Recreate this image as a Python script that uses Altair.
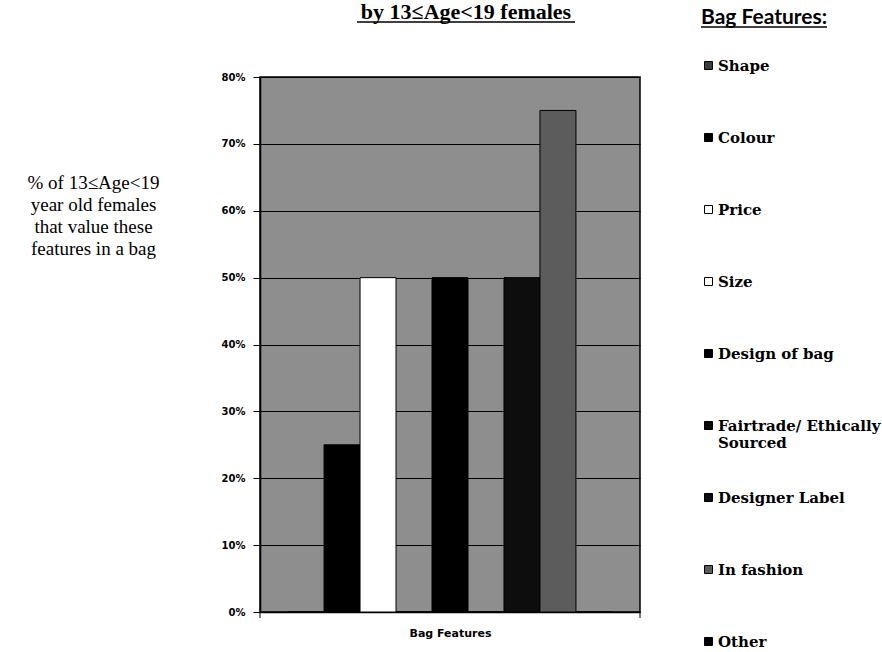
import altair as alt
import pandas as pd

# Bag features and the share of 13-19 year old females who value each one
features = ["Shape", "Colour", "Price", "Size", "Design of bag",
            "Fairtrade/ Ethically Sourced", "Designer Label", "In fashion", "Other"]
shares = [0.0, 0.25, 0.50, 0.0, 0.50, 0.0, 0.50, 0.75, 0.0]
fills = ["#3c3c3c", "#000000", "#ffffff", "#ffffff", "#000000",
         "#0a0a0a", "#0d0d0d", "#5c5c5c", "#000000"]
y_ticks = [0.0, 0.1, 0.2, 0.3, 0.4, 0.5, 0.6, 0.7, 0.8]

chart_title = "by 13\u2264Age<19 females"
y_title = ["% of 13\u2264Age<19", "year old females", "that value these", "features in a bag"]

df = pd.DataFrame({"feature": features, "share": shares})

W, H = 380, 535

bars = alt.Chart(df).mark_bar(stroke="black", strokeWidth=1).encode(
    x=alt.X(
        "feature:N", sort=features,
        scale=alt.Scale(paddingInner=0, paddingOuter=0.78),
        axis=alt.Axis(title="Bag Features", labels=False, ticks=False,
                      domainColor="black", domainWidth=1.5,
                      titleFont="DejaVu Sans", titleFontWeight="bold",
                      titleFontSize=11, titleColor="black", titlePadding=15),
    ),
    y=alt.Y(
        "share:Q", scale=alt.Scale(domain=[0, 0.8]),
        axis=alt.Axis(values=y_ticks, format=".0%", title=y_title,
                      titleAngle=0, titleAlign="center", titleBaseline="top",
                      titleX=-167, titleY=96, titleFont="Liberation Serif",
                      titleFontSize=19, titleFontWeight="normal",
                      titleColor="black", titleLineHeight=22,
                      labelFont="DejaVu Sans", labelFontSize=10,
                      labelFontWeight="bold", labelColor="black", labelPadding=8,
                      tickColor="black", tickSize=7, tickWidth=1,
                      domainColor="black", domainWidth=1.5,
                      grid=True, gridColor="black", gridWidth=1, gridOpacity=1),
    ),
    color=alt.Color(
        "feature:N", sort=features,
        scale=alt.Scale(domain=features, range=fills),
        legend=alt.Legend(
            title="Bag Features:", orient="none", legendX=441, legendY=-70,
            titleFont="Lato", titleFontSize=21, titleFontWeight="bold",
            titleColor="black", titleBaseline="top", titlePadding=30,
            labelFont="DejaVu Serif", labelFontSize=15, labelFontWeight="bold",
            labelColor="black", labelLimit=300, labelOffset=2,
            labelExpr="datum.label == 'Fairtrade/ Ethically Sourced' ? ['Fairtrade/ Ethically', '  Sourced'] : datum.label",
            symbolType="square", symbolSize=64, symbolStrokeColor="black",
            symbolStrokeWidth=1, symbolOpacity=1,
            rowPadding=39, gridAlign="all", padding=0,
        ),
    ),
)

one = pd.DataFrame({"t": [chart_title]})

title = alt.Chart(one).mark_text(
    font="Liberation Serif", fontSize=22, fontWeight="bold", color="black",
    align="center", baseline="alphabetic",
).encode(text="t:N", x=alt.value(206), y=alt.value(-58))

title_underline = alt.Chart(one).mark_rule(color="black", strokeWidth=1.5).encode(
    x=alt.value(97), x2=alt.value(315), y=alt.value(-55))

legend_underline = alt.Chart(one).mark_rule(color="black", strokeWidth=1.5).encode(
    x=alt.value(441), x2=alt.value(567), y=alt.value(-50))

end_tick_left = alt.Chart(one).mark_rule(color="black", strokeWidth=1).encode(
    x=alt.value(0), y=alt.value(H), y2=alt.value(H + 6))
end_tick_right = alt.Chart(one).mark_rule(color="black", strokeWidth=1).encode(
    x=alt.value(W), y=alt.value(H), y2=alt.value(H + 6))

chart = alt.layer(
    bars, title, title_underline, legend_underline, end_tick_left, end_tick_right
).properties(
    width=W, height=H,
    autosize=alt.AutoSizeParams(type="none"),
    padding={"left": 260, "top": 77, "right": 242, "bottom": 40},
    background="white",
).configure_view(
    fill="#8e8e8e", stroke="black", strokeWidth=1.5,
)

chart.save("out.html", embed_options={"renderer": "svg", "actions": False})
